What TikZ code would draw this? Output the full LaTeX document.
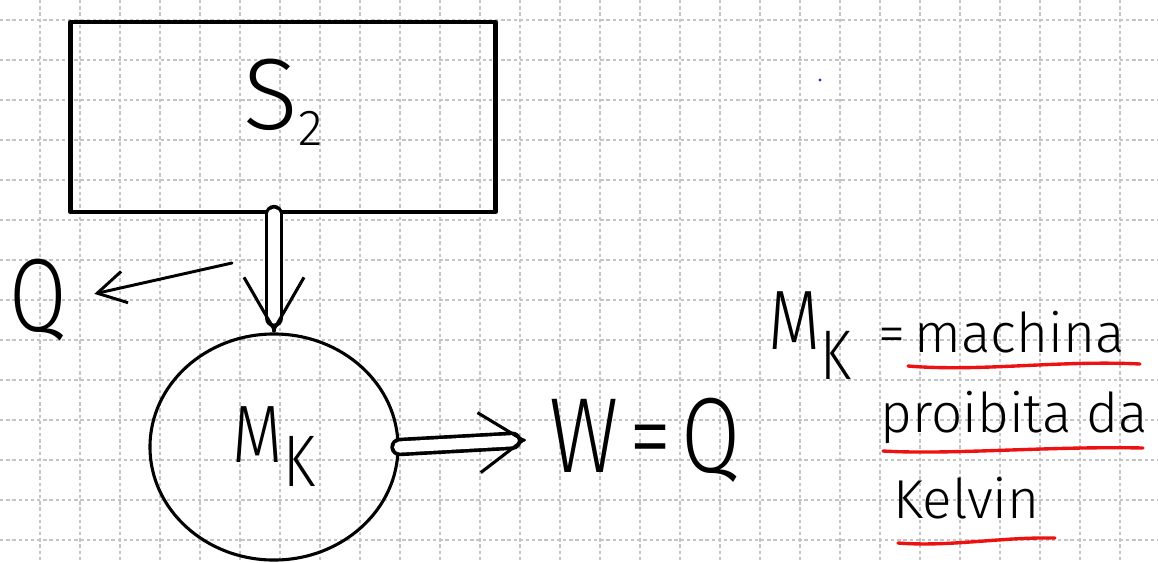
\documentclass[tikz,border=0pt]{standalone}
\usepackage{fontspec}
\setmainfont{Fira Sans Light}
\newfontfamily\handfont[FakeStretch=0.8]{Fira Sans Light}
\usetikzlibrary{arrows.meta,shapes.geometric,calc}
\definecolor{gridGray}{HTML}{C4C4C4}
\definecolor{inkRed}{HTML}{EE1111}
\definecolor{inkBlue}{HTML}{2233DD}
\newcommand{\lowsub}[2]{\raisebox{-#1}{#2}}
\tikzset{
  gridline/.style ={gridGray, line width=0.9pt, dash pattern=on 2.4pt off 2pt},
  ink/.style      ={line width=2.4pt, line cap=round, line join=round},
  box/.style      ={draw, ink, line width=3pt, inner sep=0pt},
  circ/.style     ={ellipse, draw, ink, line width=2.2pt, inner sep=0pt},
  hand/.style     ={inner sep=0pt, font=\handfont},
  word/.style     ={inner sep=0pt, anchor=base west, font=\fontsize{39}{42}\selectfont},
  underline/.style={inkRed, line width=2.4pt, line cap=round},
  arr/.style      ={ink, line width=2.1pt, -{Straight Barb[length=0.7cm, width=0.8cm]}},
  dblshaft/.style ={ink, line width=2.6pt, double, double distance=0.28cm},
  barb/.style     ={ink, line width=2.2pt, -{Straight Barb[length=#1, width=1.5cm]}},
  barb/.default=1.1cm,
}

\begin{document}
\begin{tikzpicture}[x=0.025cm, y=-0.025cm]
  \useasboundingbox (0,0) rectangle (1158,562);
  \fill[white] (0,0) rectangle (1158,562);

  % squared paper
  \foreach \gx in {40,80,...,1120} \draw[gridline] (\gx,0) -- (\gx,562);
  \foreach \gy in {20,60,...,540} \draw[gridline] (0,\gy) -- (1158,\gy);

  % reservoir and the machine
  \node[box, minimum width=10.625cm, minimum height=4.75cm] (s2) at (283,117)
       {\raisebox{-0.32cm}[0pt][0pt]{\fontsize{72}{72}\selectfont S\lowsub{0.4cm}{\fontsize{36}{36}\selectfont 2}}};
  \node[circ, minimum width=6.2cm, minimum height=5.65cm] (mk) at (274,447)
       {\handfont\fontsize{58}{58}\selectfont M\lowsub{0.6cm}{\fontsize{52}{52}\selectfont K}};

  \node[hand, font=\handfont\fontsize{74}{74}\selectfont] (qleft) at (38,300) {Q};
  \node[hand, inner xsep=0.575cm, font=\handfont\fontsize{76}{76}\selectfont] (wq) at (645,440)
       {W\hspace{0.1em}=\hspace{0.1em}Q};
  \coordinate (qtail) at (232,263);

  \draw[dblshaft, shorten >=0.36cm] (s2.south -| mk.north) -- (mk.north);
  \draw[barb=1.3cm] ($(mk.north)!1pt!(s2.south -| mk.north)$) -- (mk.north);
  \draw[arr, shorten >=0.7cm] (qtail) -- (qleft.east);
  \draw[dblshaft, shorten >=0.34cm] (mk.east) -- (wq.west);
  \draw[barb] ($(wq.west)!1pt!(mk.east)$) -- (wq.west);

  % definition on the right
  \node[hand, font=\handfont\fontsize{60}{60}\selectfont] (mkr) at (810,336)
       {M\lowsub{0.75cm}{\fontsize{50}{50}\selectfont K}};
  \node[word] (mach)  at (878,352) {=\,machina};
  \node[word] (proib) at (880,432) {proibita da};
  \node[word] (kelv)  at (893,518) {Kelvin};
  \draw[underline] (908,366) .. controls (980,372) and (1060,360) .. (1140,364);
  \draw[underline] (883,451) .. controls (950,455) and (1050,446) .. (1143,448);
  \draw[underline] (898,543) .. controls (950,547) and (1000,537) .. (1055,538);

  \fill[inkBlue] (820,80) circle[radius=0.04cm];
\end{tikzpicture}
\end{document}
